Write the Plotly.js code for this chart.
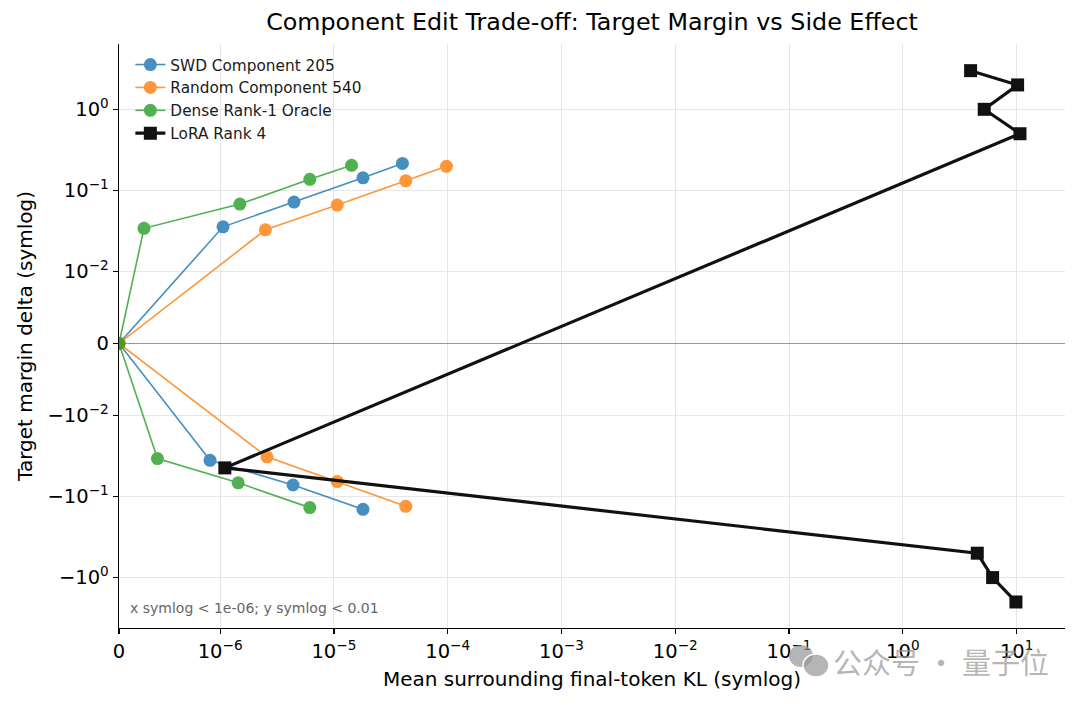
<!DOCTYPE html>
<html>
<head>
<meta charset="utf-8">
<script src="https://cdn.plot.ly/plotly-3.0.1.min.js"></script>
<style>
  html, body { margin: 0; padding: 0; background: #ffffff; }
  #plot { width: 1080px; height: 706px; }
</style>
</head>
<body>
<div id="plot"></div>
<script>
// values, ordered from the most negative edit scale to the most positive
const swdKL = [1.80e-5, 4.37e-6, 9.0e-7, 0, 1.06e-6, 4.46e-6, 1.80e-5, 4.0e-5];
const swdMargin = [-0.144, -0.072, -0.0357, 0, 0.0355, 0.0717, 0.143, 0.215];
const randKL = [4.28e-5, 1.07e-5, 2.58e-6, 0, 2.50e-6, 1.07e-5, 4.28e-5, 9.75e-5];
const randMargin = [-0.132, -0.0653, -0.0324, 0, 0.0326, 0.0658, 0.131, 0.198];
const denseKL = [6.14e-6, 1.44e-6, 3.8e-7, 0, 2.47e-7, 1.49e-6, 6.14e-6, 1.43e-5];
const denseMargin = [-0.137, -0.0677, -0.034, 0, 0.034, 0.0677, 0.137, 0.204];
const loraKL = [3.94, 10.2, 5.19, 10.7, 1.10e-6, 4.51, 6.15, 9.86];
const loraMargin = [3.0, 2.0, 1.0, 0.5, -0.0443, -0.5, -1.0, -2.0];

const xTickValues = [0, 1e-6, 1e-5, 1e-4, 1e-3, 1e-2, 1e-1, 1e0, 1e1];
const xTickLabels = ["0", "10<sup>−6</sup>", "10<sup>−5</sup>", "10<sup>−4</sup>", "10<sup>−3</sup>",
  "10<sup>−2</sup>", "10<sup>−1</sup>", "10<sup>0</sup>", "10<sup>1</sup>"];
const yTickValues = [-1, -0.1, -0.01, 0, 0.01, 0.1, 1];
const yTickLabels = ["−10<sup>0</sup>", "−10<sup>−1</sup>", "−10<sup>−2</sup>", "0",
  "10<sup>−2</sup>", "10<sup>−1</sup>", "10<sup>0</sup>"];

const X_LINTHRESH = 1e-6;
const Y_LINTHRESH = 0.01;
// plotly has no symlog axis, so map values like matplotlib's symlog (linscale 0.8)
const LINSCALE = 0.8 / (1 - 1 / 10);

function symlog(v, t) {
  const a = Math.abs(v);
  const s = Math.sign(v);
  if (a <= t) return s * (a / t) * LINSCALE;
  return s * (LINSCALE + Math.log10(a / t));
}
const sx = (arr) => arr.map((v) => symlog(v, X_LINTHRESH));
const sy = (arr) => arr.map((v) => symlog(v, Y_LINTHRESH));

const FONT = "DejaVu Sans, Arial, sans-serif";

function compTrace(name, kl, margin, color) {
  return {
    type: "scatter",
    mode: "lines+markers",
    name,
    x: sx(kl),
    y: sy(margin),
    opacity: 0.82,
    line: { color, width: 1.6 },
    marker: { color, size: 13, line: { width: 0 } },
  };
}

const traces = [
  compTrace("SWD Component 205", swdKL, swdMargin, "#1f77b4"),
  compTrace("Random Component 540", randKL, randMargin, "#ff7f0e"),
  compTrace("Dense Rank-1 Oracle", denseKL, denseMargin, "#2ca02c"),
  {
    type: "scatter",
    mode: "lines+markers",
    name: "LoRA Rank 4",
    x: sx(loraKL),
    y: sy(loraMargin),
    line: { color: "#111111", width: 3.2 },
    marker: { color: "#111111", size: 13, symbol: "square" },
  },
];

const axisCommon = {
  showgrid: true,
  gridcolor: "#e6e6e6",
  gridwidth: 1,
  showline: true,
  linecolor: "#000000",
  linewidth: 1.3,
  mirror: false,
  ticks: "outside",
  ticklen: 5,
  tickwidth: 1.2,
  tickcolor: "#000000",
  tickmode: "array",
  tickfont: { family: FONT, size: 19.5, color: "#000000" },
};

// WeChat-style watermark bubbles (decoration, paper coords)
const wmColor = "rgba(150,150,150,0.7)";

const layout = {
  width: 1080,
  height: 706,
  paper_bgcolor: "#ffffff",
  plot_bgcolor: "#ffffff",
  margin: { l: 119, r: 15, t: 44, b: 78 },
  title: {
    text: "Component Edit Trade-off: Target Margin vs Side Effect",
    font: { family: FONT, size: 23.8, color: "#000000" },
    x: 0.5,
    xref: "paper",
    y: 1 - 22 / 706,
    yref: "container",
    yanchor: "middle",
  },
  xaxis: {
    ...axisCommon,
    range: [0, 8.314],
    tickvals: sx(xTickValues),
    ticktext: xTickLabels,
    zeroline: false,
    title: {
      text: "Mean surrounding final-token KL (symlog)",
      font: { family: FONT, size: 20, color: "#000000" },
      standoff: 10,
    },
  },
  yaxis: {
    ...axisCommon,
    range: [-3.511, 3.695],
    tickvals: sy(yTickValues),
    ticktext: yTickLabels,
    zeroline: true,
    zerolinecolor: "#8a9ab3",
    zerolinewidth: 1.1,
    title: {
      text: "Target margin delta (symlog)",
      font: { family: FONT, size: 20, color: "#000000" },
      standoff: 9,
    },
  },
  legend: {
    x: 0.012,
    y: 0.993,
    xanchor: "left",
    yanchor: "top",
    bgcolor: "rgba(255,255,255,0)",
    font: { family: FONT, size: 15.3, color: "#1a1a1a" },
  },
  shapes: [
    { type: "circle", xref: "paper", yref: "paper", layer: "above",
      x0: (789 - 119) / 946, x1: (813 - 119) / 946, y0: (628 - 667) / 584, y1: (628 - 645) / 584,
      fillcolor: wmColor, line: { width: 0 } },
    { type: "circle", xref: "paper", yref: "paper", layer: "above",
      x0: (803 - 119) / 946, x1: (829 - 119) / 946, y0: (628 - 677) / 584, y1: (628 - 654) / 584,
      fillcolor: wmColor, line: { color: "#ffffff", width: 1.5 } },
  ],
  annotations: [
    {
      text: "x symlog < 1e-06; y symlog < 0.01",
      xref: "paper",
      yref: "paper",
      x: 0.0095,
      y: 0.034,
      xanchor: "left",
      yanchor: "middle",
      showarrow: false,
      font: { family: FONT, size: 14, color: "#666666" },
    },
    {
      text: "公众号 · 量子位",
      xref: "paper",
      yref: "paper",
      x: (941 - 119) / 946,
      y: (628 - 661) / 584,
      xanchor: "center",
      yanchor: "middle",
      showarrow: false,
      font: { family: "Noto Sans CJK SC, sans-serif", size: 29, color: wmColor },
    },
  ],
};

Plotly.newPlot("plot", traces, layout, { displayModeBar: false, staticPlot: true });
</script>
</body>
</html>
